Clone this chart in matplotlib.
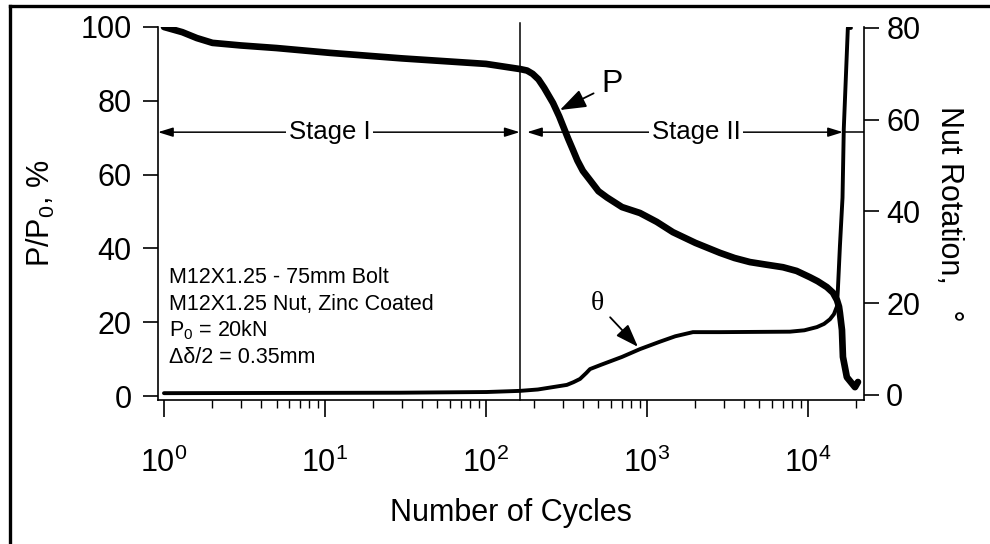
import numpy as np
import matplotlib.pyplot as plt
from matplotlib.lines import Line2D

plt.rcParams['font.family'] = ['Liberation Sans', 'DejaVu Sans']
plt.rcParams['mathtext.fontset'] = 'custom'
plt.rcParams['mathtext.rm'] = 'Liberation Sans'
plt.rcParams['mathtext.it'] = 'Liberation Sans:italic'

# =============================================================================
# DATOS
# =============================================================================
# Carga remanente P/P0 [%] vs número de ciclos
ciclos_p = [1, 1.3, 1.6, 2, 3, 5, 10.7, 30, 100, 163, 180, 195, 212, 230,
            261, 285, 303, 325, 347, 370, 400, 443, 500, 565, 700, 905, 1150,
            1450, 2000, 2840, 3500, 4360, 5500, 7000, 8500, 10280, 11500,
            13120, 14300, 15150, 15600, 15800, 16270, 16500, 17450, 19600,
            20450]
carga_p = [100, 98.6, 97.0, 95.7, 95.0, 94.3, 93.0, 91.5, 90.0, 88.6, 88.2,
           87.3, 85.8, 83.5, 79.4, 75.8, 72.9, 69.6, 66.7, 63.8, 61.0, 58.5,
           55.5, 53.8, 51.2, 49.6, 47.2, 44.4, 41.5, 38.8, 37.4, 36.3, 35.6,
           34.9, 33.9, 32.2, 31.1, 29.5, 28.0, 26.0, 24.2, 22.5, 17.9, 10.6,
           5.1, 2.4, 3.8]

# Rotación de la tuerca [°] vs número de ciclos
ciclos_t = [1, 29, 101, 163, 210, 318, 350, 384, 420, 443, 520, 700, 905,
            1200, 1500, 1930, 2840, 7730, 9500, 11370, 12600, 13700, 14500,
            15150, 15350, 15800, 16400, 16700, 17700, 18500]
rotacion_t = [0.4, 0.5, 0.65, 0.9, 1.2, 2.2, 2.8, 3.5, 4.8, 5.65, 6.6, 8.3,
              10.0, 11.6, 12.8, 13.7, 13.7, 13.8, 14.1, 14.8, 15.5, 16.5,
              17.6, 19.3, 23.0, 32.4, 43.0, 58.0, 80.0, 80.0]

limite_etapa = 162      # ciclos donde termina la Etapa I
fin_etapa2 = 16500      # ciclos donde termina la Etapa II
y_flechas = 71.5        # altura de las flechas de etapa (eje izq.)

notas = ["M12X1.25 - 75mm Bolt",
         "M12X1.25 Nut, Zinc Coated",
         "P$_0$ = 20kN",
         "Δδ/2 = 0.35mm"]

# =============================================================================
# FIGURA
# =============================================================================
W, H = 990, 544
fig = plt.figure(figsize=(W / 100, H / 100), dpi=100)
ax = fig.add_axes([158 / W, 1 - 400 / H, (864 - 158) / W, (400 - 27) / H])
ax2 = ax.twinx()

ax.plot(ciclos_p, carga_p, color='black', lw=4.8, solid_capstyle='round',
        solid_joinstyle='round', zorder=3)
ax2.plot(ciclos_t, rotacion_t, color='black', lw=2.8, solid_capstyle='round',
         solid_joinstyle='round', zorder=3)

ax.set_xscale('log')
ax.set_xlim(0.918, 22300)
ax.set_ylim(-1.08, 100)
ax2.set_ylim(-1.09, 80.2)
ax.set_yticks([0, 20, 40, 60, 80, 100])
ax2.set_yticks([0, 20, 40, 60, 80])

for a in (ax, ax2):
    a.spines['top'].set_visible(False)
    for s in a.spines.values():
        s.set_linewidth(1.2)
ax.spines['right'].set_visible(False)
ax2.spines['left'].set_visible(False)
ax2.spines['bottom'].set_visible(False)

ax.tick_params(axis='x', which='major', length=12, width=1.2, pad=22,
               labelsize=22, direction='out')
ax.tick_params(axis='x', which='minor', length=6, width=1.0, direction='out')
ax.tick_params(axis='y', length=11, width=1.2, pad=8, labelsize=22)
ax2.tick_params(axis='y', length=11, width=1.2, pad=5, labelsize=22)

ax.set_xlabel("Number of Cycles", fontsize=22)
ax.xaxis.set_label_coords(0.5, -0.262)
ax.set_ylabel("P/P$_0$, %", fontsize=22)
ax.yaxis.set_label_coords(-0.143, 0.5)
ax2.set_ylabel("Nut Rotation,   °", fontsize=22, rotation=270, va='center')
ax2.yaxis.set_label_coords(1.12, 0.5)

# Línea divisoria entre etapas
ax.plot([limite_etapa, limite_etapa], [-1.08, 101], color='black', lw=1.1,
        clip_on=False, zorder=2)

# Flechas de etapa
flecha = dict(arrowstyle='<|-|>,head_length=0.9,head_width=0.28',
              color='black', lw=1.1, shrinkA=0, shrinkB=0)
ax.annotate('', xy=(0.918, y_flechas), xytext=(limite_etapa, y_flechas),
            arrowprops=flecha)
ax.annotate('', xy=(180, y_flechas), xytext=(fin_etapa2, y_flechas),
            arrowprops=flecha)
ax.plot([fin_etapa2, 22300], [y_flechas, y_flechas], color='black', lw=1.1)
caja = dict(facecolor='white', edgecolor='none', pad=2)
ax.text(10.7, y_flechas, "Stage I", fontsize=18.5, ha='center', va='center',
        bbox=caja, zorder=4)
ax.text(2015, y_flechas, "Stage II", fontsize=18.5, ha='center', va='center',
        bbox=caja, zorder=4)

# Etiquetas de curvas
ax.annotate("P", xy=(288, 77.5), xytext=(607, 84.5), fontsize=23,
            ha='center', va='center',
            arrowprops=dict(arrowstyle='-|>,head_length=0.7,head_width=0.25',
                            color='black', lw=1.3, shrinkA=4, shrinkB=0))
ax2.annotate("θ", xy=(879, 10.5), xytext=(489, 20.0), fontsize=20,
             family=['Liberation Serif', 'DejaVu Serif'],
             ha='center', va='center',
             arrowprops=dict(arrowstyle='-|>,head_length=0.7,head_width=0.25',
                             color='black', lw=1.3, shrinkA=4, shrinkB=0))

# Notas del ensayo
for i, linea in enumerate(notas):
    fig.text(169 / W, 1 - (283 + 26.7 * i) / H, linea, fontsize=15.5,
             va='baseline', ha='left')

# Marco exterior
fig.add_artist(Line2D([10 / W, 10 / W], [0, 1 - 6 / H], color='black', lw=2.4,
                      transform=fig.transFigure))
fig.add_artist(Line2D([10 / W, 1], [1 - 6 / H, 1 - 6 / H], color='black', lw=2.4,
                      transform=fig.transFigure))

fig.savefig("out.png", dpi=100)
